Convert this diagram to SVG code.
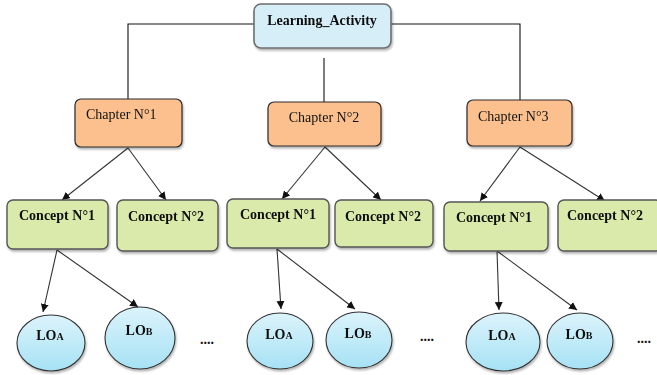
<svg xmlns="http://www.w3.org/2000/svg" width="657" height="375" viewBox="0 0 657 375">
  <style>
    .root { fill: #d6eef8; stroke: #6e6e6e; stroke-width: 1.6; }
    .chap { fill: #fbc08e; stroke: #2a2a2a; stroke-width: 1.2; }
    .conc { fill: #d9eaaa; stroke: #555; stroke-width: 1.4; }
    .lo { fill: url(#loGrad); stroke: #333; stroke-width: 1.1; }
    .t { font-family: "Liberation Serif", "Times New Roman", serif; font-size: 14px; fill: #111; }
    .b { font-weight: bold; }
    .link { fill: none; stroke: #111; stroke-width: 1.1; }
    .arrow { fill: none; stroke: #333; stroke-width: 1.1; marker-end: url(#head); }
  </style>
  <defs>
    <linearGradient id="loGrad" x1="0" y1="0" x2="0" y2="1">
      <stop offset="0" stop-color="#dcf3fb"/>
      <stop offset="1" stop-color="#a6e2f5"/>
    </linearGradient>
    <marker id="head" viewBox="0 0 10 10" refX="10" refY="5" markerWidth="8" markerHeight="8" markerUnits="userSpaceOnUse" orient="auto">
      <path d="M0,0 L10,5 L0,10 z" fill="#111"/>
    </marker>
    <filter id="shadow" x="-10%" y="-10%" width="130%" height="140%">
      <feDropShadow dx="1" dy="2" stdDeviation="1.2" flood-color="#000" flood-opacity="0.3"/>
    </filter>
  </defs>

  <g id="connectors">
    <!-- root to chapters -->
    <polyline class="link" points="254,24 128,24 128,99"/>
    <line class="link" x1="324" y1="58" x2="324" y2="102"/>
    <polyline class="link" points="391,24 520,24 520,100"/>
    <!-- chapters to concepts -->
    <line class="arrow" x1="128" y1="148" x2="62" y2="200"/>
    <line class="arrow" x1="128" y1="148" x2="166" y2="200"/>
    <line class="arrow" x1="325" y1="147" x2="282" y2="199"/>
    <line class="arrow" x1="325" y1="147" x2="381" y2="200"/>
    <line class="arrow" x1="520" y1="147" x2="480" y2="201"/>
    <line class="arrow" x1="520" y1="147" x2="605" y2="201"/>
    <!-- concepts to learning objects -->
    <line class="arrow" x1="57" y1="250" x2="43" y2="312"/>
    <line class="arrow" x1="57" y1="250" x2="138" y2="307"/>
    <line class="arrow" x1="277" y1="249" x2="281" y2="309"/>
    <line class="arrow" x1="277" y1="249" x2="355" y2="309"/>
    <line class="arrow" x1="497" y1="251" x2="499" y2="310"/>
    <line class="arrow" x1="497" y1="251" x2="577" y2="310"/>
  </g>

  <g id="learning-activity" filter="url(#shadow)">
    <rect class="root" x="254" y="4" width="137" height="44" rx="7"/>
    <text class="t b" x="322" y="25" text-anchor="middle">Learning_Activity</text>
  </g>

  <g id="chapter-1" filter="url(#shadow)">
    <rect class="chap" x="75" y="99" width="107" height="48" rx="6"/>
    <text class="t" x="86" y="119">Chapter N°1</text>
  </g>
  <g id="chapter-2" filter="url(#shadow)">
    <rect class="chap" x="268" y="102" width="113" height="44" rx="6"/>
    <text class="t" x="324" y="122" text-anchor="middle">Chapter N°2</text>
  </g>
  <g id="chapter-3" filter="url(#shadow)">
    <rect class="chap" x="467" y="100" width="105" height="46" rx="6"/>
    <text class="t" x="478" y="121">Chapter N°3</text>
  </g>

  <g id="concept-1-1" filter="url(#shadow)">
    <rect class="conc" x="7" y="200" width="101" height="49" rx="6"/>
    <text class="t b" x="57" y="220" text-anchor="middle">Concept N°1</text>
  </g>
  <g id="concept-1-2" filter="url(#shadow)">
    <rect class="conc" x="117" y="200" width="101" height="51" rx="6"/>
    <text class="t b" x="166" y="221" text-anchor="middle">Concept N°2</text>
  </g>
  <g id="concept-2-1" filter="url(#shadow)">
    <rect class="conc" x="227" y="199" width="102" height="49" rx="6"/>
    <text class="t b" x="278" y="219" text-anchor="middle">Concept N°1</text>
  </g>
  <g id="concept-2-2" filter="url(#shadow)">
    <rect class="conc" x="335" y="200" width="98" height="47" rx="6"/>
    <text class="t b" x="383" y="221" text-anchor="middle">Concept N°2</text>
  </g>
  <g id="concept-3-1" filter="url(#shadow)">
    <rect class="conc" x="444" y="202" width="104" height="49" rx="6"/>
    <text class="t b" x="494" y="222" text-anchor="middle">Concept N°1</text>
  </g>
  <g id="concept-3-2" filter="url(#shadow)">
    <rect class="conc" x="558" y="200" width="104" height="51" rx="6"/>
    <text class="t b" x="605" y="220" text-anchor="middle">Concept N°2</text>
  </g>

  <g id="lo-1-a" filter="url(#shadow)">
    <ellipse class="lo" cx="51" cy="343" rx="34" ry="28"/>
    <text class="t b" x="50" y="340" text-anchor="middle">LO<tspan font-size="10">A</tspan></text>
  </g>
  <g id="lo-1-b" filter="url(#shadow)">
    <ellipse class="lo" cx="140" cy="338" rx="35" ry="31"/>
    <text class="t b" x="139" y="335" text-anchor="middle">LO<tspan font-size="10">B</tspan></text>
  </g>
  <g id="lo-2-a" filter="url(#shadow)">
    <ellipse class="lo" cx="280" cy="341" rx="33" ry="28"/>
    <text class="t b" x="279" y="339" text-anchor="middle">LO<tspan font-size="10">A</tspan></text>
  </g>
  <g id="lo-2-b" filter="url(#shadow)">
    <ellipse class="lo" cx="359" cy="340" rx="33" ry="28"/>
    <text class="t b" x="358" y="338" text-anchor="middle">LO<tspan font-size="10">B</tspan></text>
  </g>
  <g id="lo-3-a" filter="url(#shadow)">
    <ellipse class="lo" cx="503" cy="342" rx="37" ry="29"/>
    <text class="t b" x="502" y="340" text-anchor="middle">LO<tspan font-size="10">A</tspan></text>
  </g>
  <g id="lo-3-b" filter="url(#shadow)">
    <ellipse class="lo" cx="580" cy="341" rx="33" ry="28"/>
    <text class="t b" x="579" y="339" text-anchor="middle">LO<tspan font-size="10">B</tspan></text>
  </g>

  <g id="more">
    <text class="t b" x="200" y="344">....</text>
    <text class="t b" x="420" y="341">....</text>
    <text class="t b" x="637" y="343">....</text>
  </g>
</svg>
